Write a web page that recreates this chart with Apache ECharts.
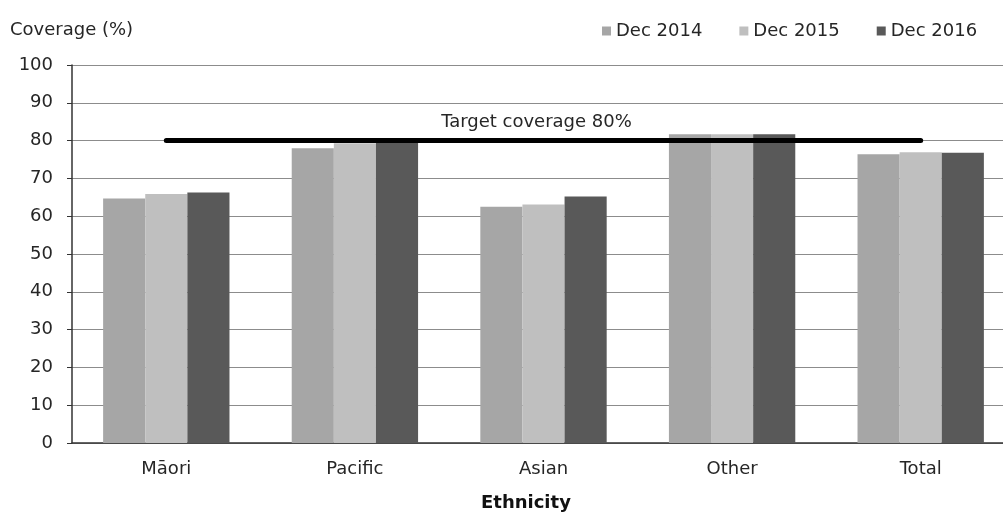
<!DOCTYPE html>
<html>
<head>
<meta charset="utf-8">
<script src="https://cdn.jsdelivr.net/npm/echarts@6/dist/echarts.min.js"></script>
<style>
  html, body { margin: 0; padding: 0; background: #fff; overflow: hidden; }
  #chart { width: 1020px; height: 514px; }
</style>
</head>
<body>
<div id="chart"></div>
<script>
// Immunisation coverage by ethnicity, three December snapshots
const categories = ['Māori', 'Pacific', 'Asian', 'Other', 'Total'];
const seriesNames = ['Dec 2014', 'Dec 2015', 'Dec 2016'];
const dec2014 = [64.7, 78.0, 62.5, 81.7, 76.4];
const dec2015 = [65.9, 79.3, 63.1, 81.7, 76.9];
const dec2016 = [66.3, 80.0, 65.2, 81.7, 76.8];
const targetValues = [80, 80, 80, 80, 80];
const targetLabel = 'Target coverage 80%';
const yTicks = [0, 10, 20, 30, 40, 50, 60, 70, 80, 90, 100];

const FONT = 'DejaVu Sans';
const TEXT = '#262626';
const colors = ['#a6a6a6', '#bfbfbf', '#595959'];

const chart = echarts.init(document.getElementById('chart'), null, { renderer: 'canvas' });

const barSeries = [dec2014, dec2015, dec2016].map((vals, i) => ({
  name: seriesNames[i],
  type: 'bar',
  data: vals,
  barGap: '0%',
  barCategoryGap: '33%',
  itemStyle: { color: colors[i] },
  z: 2
}));

chart.setOption({
  animation: false,
  backgroundColor: '#fff',
  textStyle: { fontFamily: FONT },
  title: {
    text: 'Coverage (%)',
    left: 10,
    top: 21,
    padding: 0,
    textStyle: { fontFamily: FONT, fontSize: 18, fontWeight: 'normal', color: TEXT }
  },
  legend: {
    data: seriesNames,
    left: 602,
    top: 22,
    padding: 0,
    icon: 'rect',
    itemWidth: 9,
    itemHeight: 9,
    itemGap: 37,
    textStyle: { fontFamily: FONT, fontSize: 18, color: TEXT, padding: [0, 0, 0, 0] }
  },
  grid: { left: 72, top: 65, width: 943, height: 378, containLabel: false },
  xAxis: {
    type: 'category',
    data: categories,
    axisLine: { lineStyle: { color: '#333', width: 1.5 } },
    axisTick: { show: false },
    axisLabel: { fontFamily: FONT, fontSize: 18, color: TEXT, margin: 17 }
  },
  yAxis: {
    type: 'value',
    min: yTicks[0],
    max: yTicks[yTicks.length - 1],
    interval: 10,
    axisLine: { show: true, lineStyle: { color: '#333', width: 1.5 } },
    axisTick: { show: true, length: 5, lineStyle: { color: '#333' } },
    axisLabel: { fontFamily: FONT, fontSize: 18, color: TEXT, margin: 19 },
    splitLine: { lineStyle: { color: '#8c8c8c', width: 1.2 } }
  },
  series: barSeries.concat([{
    name: 'Target',
    type: 'line',
    data: targetValues.map((v, i) => i === 2
      ? { value: v, label: { show: true, formatter: targetLabel, position: 'top', distance: 9, offset: [-7, 0],
          fontFamily: FONT, fontSize: 18, color: TEXT } }
      : v),
    symbol: 'circle',
    symbolSize: 0,
    showSymbol: true,
    lineStyle: { color: '#000', width: 5, cap: 'round' },
    z: 10
  }]),
  graphic: [{
    type: 'text',
    left: 481,
    top: 494,
    style: {
      text: 'Ethnicity',
      fontFamily: FONT,
      fontSize: 18,
      fontWeight: 'bold',
      fill: '#111'
    }
  }]
});
</script>
</body>
</html>
